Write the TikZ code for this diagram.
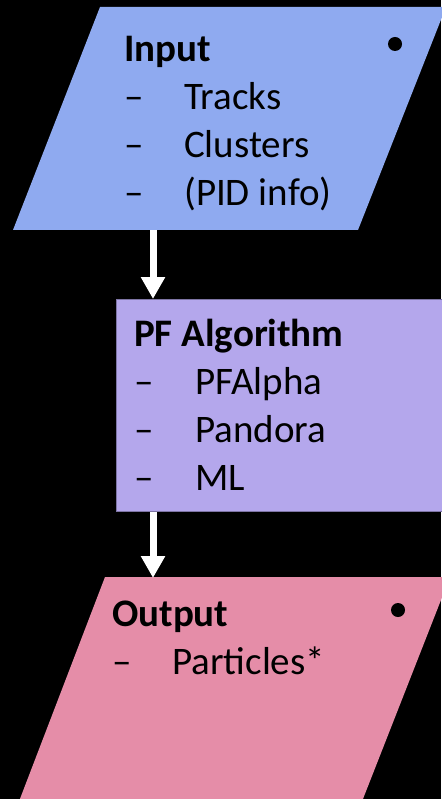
\documentclass[tikz,border=0pt]{standalone}
\usepackage{fontspec}
\setmainfont{Carlito}
\usepackage{xcolor}
\usetikzlibrary{arrows.meta}
\definecolor{inblue}{RGB}{143,170,240}
\definecolor{algpurple}{RGB}{180,167,236}
\definecolor{outpink}{RGB}{229,141,168}

\begin{document}
\begin{tikzpicture}[x=1pt,y=-1pt,
  blocktext/.style={anchor=base west,inner sep=0pt,font=\fontsize{39}{48}\selectfont},
  flow/.style={draw=white,line width=7pt,-{Triangle[length=22pt,width=23pt]}},
  algbox/.style={fill=algpurple,draw=algpurple!70!black,line width=0.8pt,anchor=north west,inner sep=0pt}]
\fill[black](0,0)rectangle(441,799);
\useasboundingbox(0,0)rectangle(441,799);
% input
\fill[inblue](100,7)--(446,7)--(358,230)--(13,230)--cycle;
\fill[black](395,44)circle(7);
\node[blocktext](in) at (124,62){\begin{tabular}[t]{@{}p{60pt}@{}l@{}}
\multicolumn{2}{@{}l@{}}{\textbf{Input}}\\
–&Tracks\\
–&Clusters\\
–&(PID info)
\end{tabular}};
\coordinate(inb) at (153,230);
% algorithm
\node[algbox,minimum width=380pt,minimum height=212pt](alg) at (116,299){};
\node[blocktext](algtext) at (134,346){\begin{tabular}[t]{@{}p{61pt}@{}l@{}}
\multicolumn{2}{@{}l@{}}{\textbf{PF Algorithm}}\\
–&PFAlpha\\
–&Pandora\\
–&ML
\end{tabular}};
% output
\fill[outpink](105,577)--(450,577)--(361,804)--(18,804)--cycle;
\fill[black](398,610)circle(7);
\node[blocktext](out) at (112,626){\begin{tabular}[t]{@{}p{60pt}@{}l@{}}
\multicolumn{2}{@{}l@{}}{\textbf{Output}}\\
–&Particles*
\end{tabular}};
\coordinate(outt) at (153,578);
\draw[flow](inb)--(inb|-alg.north);
\draw[flow](inb|-alg.south)--(outt);
\end{tikzpicture}
\end{document}
